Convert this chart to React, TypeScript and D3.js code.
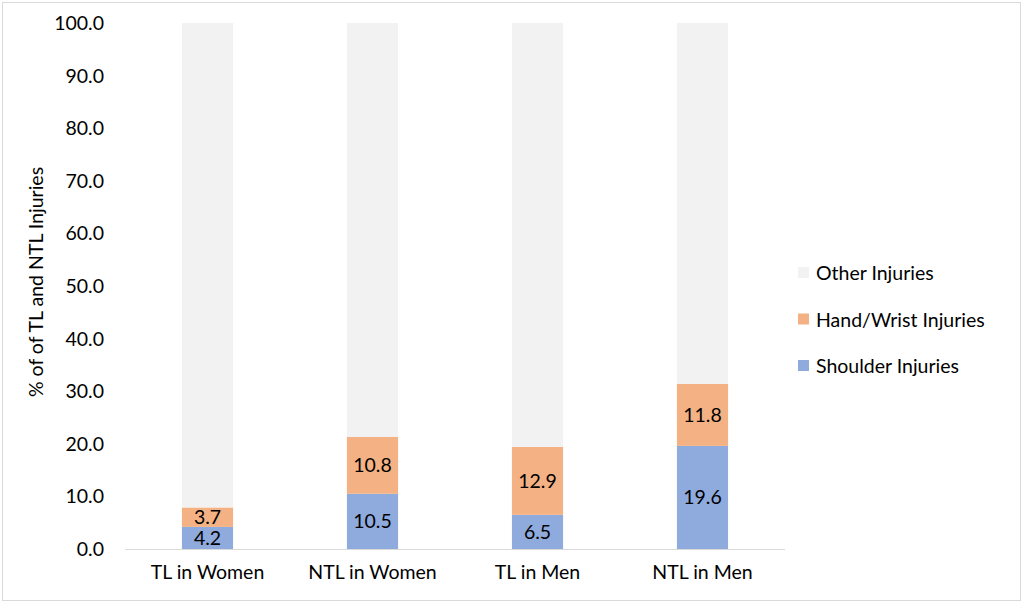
import * as d3 from 'd3';
import React, { useEffect, useRef } from 'react';

const categories = ['TL in Women', 'NTL in Women', 'TL in Men', 'NTL in Men'];
const shoulder = [4.2, 10.5, 6.5, 19.6];
const handWrist = [3.7, 10.8, 12.9, 11.8];
const other = [92.1, 78.7, 80.6, 68.6];
const seriesNames = ['Shoulder Injuries', 'Hand/Wrist Injuries', 'Other Injuries'];
const seriesColors = ['#8faadc', '#f4b183', '#f2f2f2'];
const yTicks = [0, 10, 20, 30, 40, 50, 60, 70, 80, 90, 100];

const W = 1024;
const H = 605;
const FONT = 'Lato, "Open Sans", sans-serif';
const FS = 19.5;

export default function App() {
  const ref = useRef<SVGSVGElement>(null);

  useEffect(() => {
    document.body.style.margin = '0';
    const svg = d3.select(ref.current).attr('width', W).attr('height', H);
    svg.selectAll('*').remove();

    svg
      .append('rect')
      .attr('x', 2.5)
      .attr('y', 2.5)
      .attr('width', 1018)
      .attr('height', 598)
      .attr('fill', '#fff')
      .attr('stroke', '#d9d9d9');

    const x = d3.scaleBand<string>().domain(categories).range([125, 785]).paddingInner(0.69).paddingOuter(0.345);
    const y = d3.scaleLinear().domain([0, 100]).range([549, 23]);

    const rows = categories.map((c, i) => ({
      cat: c,
      s0: shoulder[i],
      s1: handWrist[i],
      s2: other[i],
    }));
    const stack = d3.stack<any>().keys(['s0', 's1', 's2'])(rows);

    const g = svg.append('g');
    stack.forEach((layer, li) => {
      g.append('g')
        .selectAll('rect')
        .data(layer)
        .join('rect')
        .attr('x', (d) => x(d.data.cat)!)
        .attr('width', x.bandwidth())
        .attr('y', (d) => y(d[1]))
        .attr('height', (d) => y(d[0]) - y(d[1]))
        .attr('fill', seriesColors[li]);

      if (li < 2) {
        g.append('g')
          .selectAll('text')
          .data(layer)
          .join('text')
          .attr('x', (d) => x(d.data.cat)! + x.bandwidth() / 2)
          .attr('y', (d) => (y(d[0]) + y(d[1])) / 2)
          .attr('dy', '0.36em')
          .attr('text-anchor', 'middle')
          .attr('font-family', FONT)
          .attr('font-size', FS)
          .attr('fill', '#000')
          .text((d) => (d[1] - d[0]).toFixed(1));
      }
    });

    // x axis line
    svg
      .append('line')
      .attr('x1', 125)
      .attr('x2', 785)
      .attr('y1', y(0) + 0.5)
      .attr('y2', y(0) + 0.5)
      .attr('stroke', '#d9d9d9')
      .attr('stroke-width', 1);

    svg
      .append('g')
      .selectAll('text')
      .data(categories)
      .join('text')
      .attr('x', (d) => x(d)! + x.bandwidth() / 2)
      .attr('y', 579)
      .attr('text-anchor', 'middle')
      .attr('font-family', FONT)
      .attr('font-size', FS)
      .attr('fill', '#000')
      .text((d) => d);

    svg
      .append('g')
      .selectAll('text')
      .data(yTicks)
      .join('text')
      .attr('x', 104)
      .attr('y', (d) => y(d))
      .attr('dy', '0.36em')
      .attr('text-anchor', 'end')
      .attr('font-family', FONT)
      .attr('font-size', FS)
      .attr('fill', '#000')
      .text((d) => d.toFixed(1));

    svg
      .append('text')
      .attr('transform', `translate(43,282) rotate(-90)`)
      .attr('text-anchor', 'middle')
      .attr('font-family', FONT)
      .attr('font-size', 19.5)
      .attr('fill', '#000')
      .text('% of of TL and NTL Injuries');

    // legend
    const legendOrder = [2, 1, 0];
    const leg = svg
      .append('g')
      .selectAll('g')
      .data(legendOrder)
      .join('g')
      .attr('transform', (d, i) => `translate(798,${273 + i * 46.5})`);
    leg
      .append('rect')
      .attr('x', 0)
      .attr('y', -6)
      .attr('width', 11)
      .attr('height', 11)
      .attr('fill', (d) => seriesColors[d]);
    leg
      .append('text')
      .attr('x', 18)
      .attr('dy', '0.36em')
      .attr('font-family', FONT)
      .attr('font-size', FS)
      .attr('fill', '#000')
      .text((d) => seriesNames[d]);
  }, []);

  return <svg ref={ref} style={{ display: 'block' }}></svg>;
}
